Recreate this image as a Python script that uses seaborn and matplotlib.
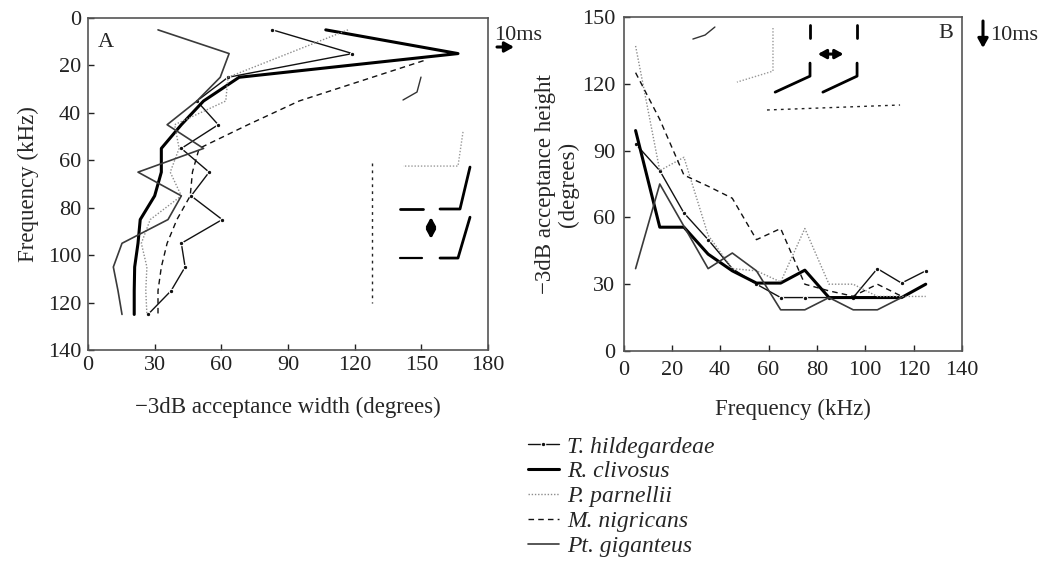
import numpy as np
import pandas as pd
import matplotlib
matplotlib.use("Agg")
import matplotlib.pyplot as plt
import seaborn as sns

# ---------------- data ----------------
SPECIES = ["T. hildegardeae", "R. clivosus", "P. parnellii", "M. nigricans", "Pt. giganteus"]
FREQ = [5, 15, 25, 35, 45, 55, 65, 75, 85, 95, 105, 115, 125]

# Panel A: -3dB acceptance width (degrees) vs frequency (kHz)
A_T_HILD = [83, 119, 63, 49, 58.6, 42, 54.5, 46.4, 60.4, 42, 43.7, 37.4, 27]
A_R_CLIV = [107, 166.5, 68, 52, 42, 33, 33, 30, 23.5, 22.5, 21, 20.8, 20.8]
A_P_PARN = [117, 90, 63, 62, 39, 41, 37, 42, 28, 24, 26.5, 26, 26.5]
A_M_NIGR_FREQ = [18, 35, 45, 55, 65, 75, 85, 95, 105, 115, 125]
A_M_NIGR = [151, 95, 72, 50, 47, 46, 40, 35.6, 33, 31.5, 31.5]
A_PT_GIG = [31.5, 63.5, 59.5, 49, 35.6, 52, 22.5, 42, 36, 15.3, 11.4, 13.5, 15.3]

# Panel B: -3dB acceptance height (degrees) vs frequency (kHz)
B_T_HILD = [93, 81, 62, 50, 37, 30, 24, 24, 24, 24, 37, 30.5, 36]
B_R_CLIV = [99, 55.6, 55.6, 43.5, 36, 30.5, 30.5, 36.3, 24, 24, 24, 24, 30]
B_P_PARN = [137, 81, 87, 52, 37, 36, 31, 55, 30, 30, 24.5, 24.5, 24.5]
B_M_NIGR_FREQ = [5, 15, 25, 35, 45, 55, 65, 75, 85, 95, 105, 115]
B_M_NIGR = [125, 104, 79, 74, 68.6, 50, 55, 30, 27, 24.6, 30, 24.6]
B_PT_GIG_FREQ = [5, 15, 25, 35, 45, 55, 65, 75, 85, 95, 105, 115]
B_PT_GIG = [37, 75, 56, 37, 44, 36, 18.5, 18.5, 24, 18.5, 18.5, 24]

A_XTICKS = [0, 30, 60, 90, 120, 150, 180]
A_YTICKS = [0, 20, 40, 60, 80, 100, 120, 140]
B_XTICKS = [0, 20, 40, 60, 80, 100, 120, 140]
B_YTICKS = [0, 30, 60, 90, 120, 150]


def long_df(freqs_list, vals_list, value_name):
    rows = []
    for sp, fr, vv in zip(SPECIES, freqs_list, vals_list):
        for f, v in zip(fr, vv):
            rows.append({"species": sp, "freq": f, value_name: v})
    return pd.DataFrame(rows)


dfA = long_df([FREQ, FREQ, FREQ, A_M_NIGR_FREQ, FREQ],
              [A_T_HILD, A_R_CLIV, A_P_PARN, A_M_NIGR, A_PT_GIG], "width")
dfB = long_df([FREQ, FREQ, FREQ, B_M_NIGR_FREQ, B_PT_GIG_FREQ],
              [B_T_HILD, B_R_CLIV, B_P_PARN, B_M_NIGR, B_PT_GIG], "height")

STYLE = {
    "T. hildegardeae": dict(color="#111111", linewidth=1.0, linestyle="-", marker="o", markersize=3.2),
    "R. clivosus": dict(color="#000000", linewidth=2.2, linestyle="-"),
    "P. parnellii": dict(color="#8c8c8c", linewidth=1.0, linestyle=(0, (1, 1.3))),
    "M. nigricans": dict(color="#111111", linewidth=1.0, linestyle=(0, (4, 3))),
    "Pt. giganteus": dict(color="#3a3a3a", linewidth=1.2, linestyle="-"),
}

# ---------------- figure ----------------
sns.set_theme(style="white")
plt.rcParams["font.family"] = ["Liberation Serif", "DejaVu Serif"]
plt.rcParams["mathtext.fontset"] = "dejavuserif"

W, H = 1046, 575
fig = plt.figure(figsize=(W / 100, H / 100), dpi=100)
fig.patch.set_facecolor("white")

axA = fig.add_axes([88 / W, 1 - 350 / H, 400 / W, 332 / H])
axB = fig.add_axes([623.5 / W, 1 - 351 / H, 338.5 / W, 334 / H])

for sp in SPECIES:
    sub = dfA[dfA.species == sp]
    sns.lineplot(data=sub, x="width", y="freq", sort=False, estimator=None,
                 ax=axA, legend=False, **STYLE[sp])
    subB = dfB[dfB.species == sp]
    sns.lineplot(data=subB, x="freq", y="height", sort=False, estimator=None,
                 ax=axB, label=sp, legend=False, **STYLE[sp])

TICK_FS = 16
LAB_FS = 16.5
for ax in (axA, axB):
    for s in ax.spines.values():
        s.set_color("#555555")
        s.set_linewidth(1.2)
        s.set_visible(True)
    ax.tick_params(direction="in", length=4, width=1.0, colors="#222222",
                   labelsize=TICK_FS, left=True, bottom=True, top=False, right=False)
    ax.set_facecolor("white")

axA.set_xlim(0, 180)
axA.set_ylim(140, 0)
axA.set_xticks(A_XTICKS)
axA.set_yticks(A_YTICKS)
axA.tick_params(axis="x", pad=4)
axA.tick_params(axis="y", pad=5)
axA.set_xlabel("\u22123dB acceptance width (degrees)", fontsize=LAB_FS, labelpad=16)
axA.set_ylabel("Frequency (kHz)", fontsize=LAB_FS, labelpad=6)

axB.set_xlim(0, 140)
axB.set_ylim(0, 150)
axB.set_xticks(B_XTICKS)
axB.set_yticks(B_YTICKS)
axB.tick_params(axis="x", pad=7)
axB.tick_params(axis="y", pad=6)
axB.set_xlabel("Frequency (kHz)", fontsize=LAB_FS, labelpad=14)
axB.set_ylabel("\u22123dB acceptance height\n(degrees)", fontsize=LAB_FS, labelpad=2,
               linespacing=1.1)

for ax in (axA, axB):
    for lab in ax.get_xticklabels() + ax.get_yticklabels():
        lab.set_color("#222222")

axA.text(0.025, 0.955, "A", transform=axA.transAxes, fontsize=16, ha="left", va="top")
axB.text(0.975, 0.98, "B", transform=axB.transAxes, fontsize=16, ha="right", va="top")

# ---------------- stimulus pictograms (decorative, axes fractions) ----------------
PICTO_A = [
    ([0.8325, 0.8225, 0.7875], [0.822, 0.777, 0.753], dict(color="#333", lw=1.0, ls="-")),
    ([0.9375, 0.925, 0.7875], [0.657, 0.554, 0.554], dict(color="#999", lw=1.0, ls=(0, (1, 1.3)))),
    ([0.71, 0.71], [0.563, 0.142], dict(color="#222", lw=1.0, ls=(0, (2, 3)))),
    ([0.78, 0.8375], [0.4247, 0.4247], dict(color="#000", lw=2.0, ls="-")),
    ([0.88, 0.93, 0.955], [0.4247, 0.4247, 0.551], dict(color="#000", lw=2.0, ls="-")),
    ([0.78, 0.835], [0.277, 0.277], dict(color="#000", lw=1.6, ls="-")),
    ([0.88, 0.925, 0.955], [0.277, 0.277, 0.40], dict(color="#000", lw=2.0, ls="-")),
]
PICTO_B = [
    ([0.205, 0.241, 0.27], [0.934, 0.946, 0.97], dict(color="#333", lw=1.0, ls="-")),
    ([0.4416, 0.4416, 0.335], [0.967, 0.838, 0.805], dict(color="#999", lw=1.0, ls=(0, (1, 1.3)))),
    ([0.551, 0.551], [0.976, 0.937], dict(color="#000", lw=2.0, ls="-")),
    ([0.690, 0.690], [0.976, 0.937], dict(color="#000", lw=2.0, ls="-")),
    ([0.448, 0.551, 0.551], [0.775, 0.823, 0.862], dict(color="#000", lw=2.0, ls="-")),
    ([0.589, 0.690, 0.690], [0.775, 0.823, 0.862], dict(color="#000", lw=2.0, ls="-")),
    ([0.4239, 0.817], [0.7216, 0.7365], dict(color="#222", lw=1.0, ls=(0, (2, 3)))),
]
for ax, pict in ((axA, PICTO_A), (axB, PICTO_B)):
    for xs, ys, kw in pict:
        ax.plot(xs, ys, transform=ax.transAxes, clip_on=False, **kw)

arrow_kw = dict(arrowstyle="<|-|>,head_length=0.4,head_width=0.22", color="#000", lw=2.2,
                shrinkA=0, shrinkB=0, mutation_scale=12)
axA.annotate("", xy=(0.8575, 0.335), xytext=(0.8575, 0.40), xycoords="axes fraction",
             textcoords="axes fraction", arrowprops=arrow_kw)
axB.annotate("", xy=(0.650, 0.889), xytext=(0.574, 0.889), xycoords="axes fraction",
             textcoords="axes fraction", arrowprops=arrow_kw)

# 10 ms scale markers
one_kw = dict(arrowstyle="-|>,head_length=0.45,head_width=0.25", color="#000", lw=2.2,
              shrinkA=0, shrinkB=0, mutation_scale=12)
fig.text(494 / W, 1 - 36 / H, "10ms", fontsize=16, ha="left", va="center")
fig.add_artist(matplotlib.patches.FancyArrowPatch((497 / W, 1 - 47 / H), (514 / W, 1 - 47 / H),
               transform=fig.transFigure, **one_kw))
fig.text(990 / W, 1 - 35 / H, "10ms", fontsize=16, ha="left", va="center")
fig.add_artist(matplotlib.patches.FancyArrowPatch((983 / W, 1 - 21 / H), (983 / W, 1 - 48 / H),
               transform=fig.transFigure, **one_kw))

# ---------------- legend ----------------
handles, labels = axB.get_legend_handles_labels()
fig.legend(handles, labels, loc="upper left", bbox_to_anchor=(528 / W, 1 - 436 / H),
           frameon=False, prop={"family": ["Liberation Serif"], "style": "italic", "size": 17},
           handlelength=1.3, handletextpad=0.35, labelspacing=0.14, borderaxespad=0,
           borderpad=0)

fig.savefig("out.png", dpi=100, facecolor="white")
